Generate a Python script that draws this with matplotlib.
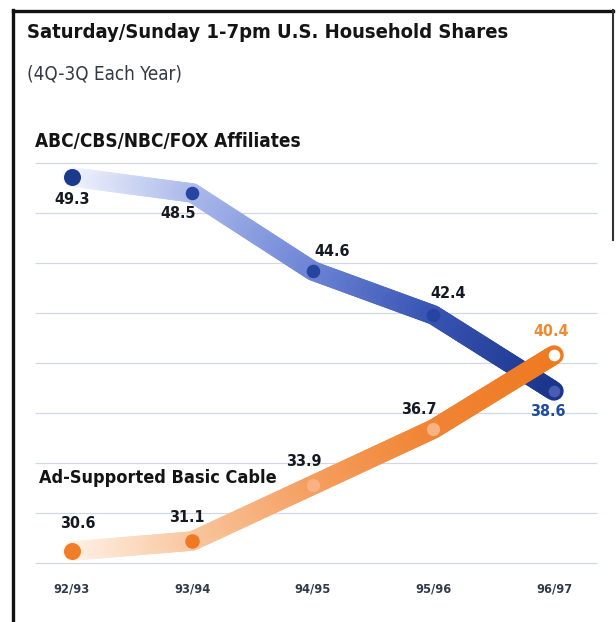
import numpy as np
import matplotlib
matplotlib.use("Agg")
import matplotlib.pyplot as plt
import matplotlib.font_manager as fm
from matplotlib.collections import LineCollection
from matplotlib.colors import LinearSegmentedColormap
from matplotlib.lines import Line2D

# data
seasons = ['92/93', '93/94', '94/95', '95/96', '96/97']
networks = [49.3, 48.5, 44.6, 42.4, 38.6]
cable = [30.6, 31.1, 33.9, 36.7, 40.4]


def find_font(bold):
    # look for a narrow / condensed face, the chart uses one
    prefs = ['liberationsansnarrow', 'notosans-condensed', 'dejavusanscondensed',
             'robotocondensed', 'opensans_condensed', 'opensanscondensed']
    found = {}
    for f in fm.fontManager.ttflist:
        base = f.fname.replace('\\', '/').split('/')[-1].lower()
        key = base.replace(' ', '')
        if 'italic' in key or 'oblique' in key:
            continue
        if 'extra' in key or 'semi' in key or 'light' in key or 'black' in key:
            continue
        is_bold = 'bold' in key
        if is_bold != bold:
            continue
        for p in prefs:
            if key.startswith(p):
                found.setdefault(p, f.fname)
    for p in prefs:
        if p in found:
            return fm.FontProperties(fname=found[p])
    return fm.FontProperties(family='DejaVu Sans', weight='bold' if bold else 'normal',
                             stretch='condensed')


fb = find_font(True)
fr = find_font(False)


def fp(size, bold=True):
    p = (fb if bold else fr).copy()
    p.set_size(size)
    return p


W, H = 616, 622
fig = plt.figure(figsize=(W / 100, H / 100), dpi=100)
fig.patch.set_facecolor('white')

# axes box in pixels (left, top, right, bottom)
L, T, R, B = 35, 163, 597, 563
ax = fig.add_axes([L / W, 1 - B / H, (R - L) / W, (B - T) / H])
ax.set_xlim(-0.307, 4.357)
ax.set_ylim(30, 50)
for s in ax.spines.values():
    s.set_visible(False)
ax.set_yticks([])

# gridlines
for g in np.arange(30, 50.1, 2.5):
    ax.hlines(g, -0.307, 4.357, color='#cfd8e6', lw=0.9, clip_on=False, zorder=1)

x = np.arange(len(seasons))

blue_map = LinearSegmentedColormap.from_list(
    'b', [(0, '#f4f6fd'), (0.25, '#aebcec'), (0.5, '#6f86d6'), (0.75, '#3a56b4'), (1, '#1c368e')])
orange_map = LinearSegmentedColormap.from_list(
    'o', [(0, '#fff3ea'), (0.25, '#f9c9a3'), (0.5, '#f5a062'), (0.75, '#f08535'), (1, '#ef7a22')])


def band(vals, cmap, z):
    # thick line that fades out towards the left
    segs, cols = [], []
    n = 40
    for i in range(len(vals) - 1):
        for k in range(n):
            t0 = i + k / n
            t1 = i + (k + 1) / n
            y0 = vals[i] + (vals[i + 1] - vals[i]) * k / n
            y1 = vals[i] + (vals[i + 1] - vals[i]) * (k + 1) / n
            segs.append([(t0, y0), (t1, y1)])
            cols.append(cmap((t0 + t1) / 2 / (len(vals) - 1)))
    lc = LineCollection(segs, colors=cols, linewidths=14, capstyle='round',
                        joinstyle='round', zorder=z, clip_on=False)
    ax.add_collection(lc)


band(networks, blue_map, 2)
band(cable, orange_map, 4)

# markers
ax.scatter(x[:1], networks[:1], s=150, color='#1c3a8c', zorder=5, clip_on=False, lw=0)
ax.scatter(x[1:4], networks[1:4], s=95, color='#2744a0', zorder=3, clip_on=False, lw=0)
ax.scatter(x[4:], networks[4:], s=70, color='#4a5db0', zorder=3, clip_on=False, lw=0)

ax.scatter(x[:1], cable[:1], s=150, color='#f07e28', zorder=5, clip_on=False, lw=0)
ax.scatter(x[1:2], cable[1:2], s=110, color='#ee7a26', zorder=5, clip_on=False, lw=0)
ax.scatter(x[2:4], cable[2:4], s=90, color='#f7b384', zorder=5, clip_on=False, lw=0)
ax.scatter(x[4:], cable[4:], s=70, color='white', zorder=5, clip_on=False, lw=0)

# value labels (offsets in pixels from the points)
net_off = [(0, -23), (-14, -21), (19, 19), (15, 22), (-6, -20)]
cab_off = [(6, 27), (-6, 23), (-9, 23), (-15, 19), (-3, 23)]
net_col = ['#151a22'] * 4 + ['#1f4c9e']
cab_col = ['#151a22'] * 4 + ['#f08a30']
for i in range(len(seasons)):
    ax.annotate(f'{networks[i]:.1f}', (x[i], networks[i]), xytext=net_off[i],
                textcoords='offset pixels', ha='center', va='center',
                fontproperties=fp(11.5), color=net_col[i], zorder=6)
    ax.annotate(f'{cable[i]:.1f}', (x[i], cable[i]), xytext=cab_off[i],
                textcoords='offset pixels', ha='center', va='center',
                fontproperties=fp(11.5), color=cab_col[i], zorder=6)

# x tick labels
ax.set_xticks(x)
ax.set_xticklabels(seasons, color='#2f3a4a')
for lab in ax.get_xticklabels():
    lab.set_fontproperties(fp(9.2))
ax.tick_params(axis='x', length=0, pad=14)

# titles
fig.text(27 / W, 1 - 33 / H, 'Saturday/Sunday 1-7pm U.S. Household Shares',
         fontproperties=fp(14.5), color='#141414', va='center')
fig.text(27 / W, 1 - 74 / H, '(4Q-3Q Each Year)',
         fontproperties=fp(13.5, bold=False), color='#333a44', va='center')
fig.text(35 / W, 1 - 141 / H, 'ABC/CBS/NBC/FOX Affiliates',
         fontproperties=fp(13.6), color='#141414', va='center')
fig.text(39 / W, 1 - 478 / H, 'Ad-Supported Basic Cable',
         fontproperties=fp(13), color='#141414', va='center')

# frame
fig.add_artist(Line2D([13 / W, 13 / W], [0, 1 - 10 / H], color='#111111', lw=2.4))
fig.add_artist(Line2D([13 / W, 613 / W], [1 - 11 / H, 1 - 11 / H], color='#111111', lw=2.4))
fig.add_artist(Line2D([613 / W, 613 / W], [1 - 10 / H, 1 - 240 / H], color='#333333', lw=1.5))

fig.savefig('out.png', dpi=100)
